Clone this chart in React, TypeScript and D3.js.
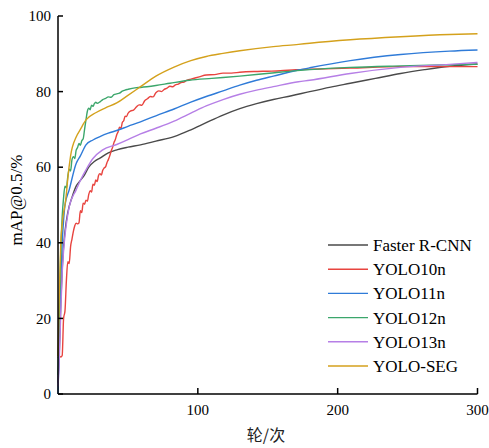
import React from "react";
import * as d3 from "d3";

// epochs / mAP@0.5 values
const fasterEpochs = [0, 1, 2, 3, 4, 5, 7, 10, 13, 16, 19, 22, 26, 30, 36, 42, 50, 59, 70, 83, 95, 106, 118, 130, 142, 154, 167, 180, 195, 209, 227, 245, 262, 280, 300];
const fasterMap = [3, 12, 24, 33, 39, 43, 48, 52, 55, 56.5, 58, 60, 61.5, 62.4, 63.8, 64.6, 65.3, 65.9, 66.9, 68.1, 69.9, 71.8, 73.8, 75.5, 76.8, 77.9, 78.9, 80, 81.2, 82.2, 83.5, 84.8, 85.8, 86.7, 87.3];

const y10Epochs = [0, 1, 2, 3, 4, 5, 6, 7, 8, 9, 10, 11, 12, 13, 14, 15, 16, 17, 18, 19, 20, 21, 22, 23, 24, 25, 26, 27, 28, 29, 30, 31, 32, 33, 34, 35, 36, 37, 38, 39, 40, 41, 42, 43, 44, 45, 46, 47, 48, 49, 50, 52, 54, 56, 58, 60, 62, 64, 66, 68, 70, 72, 74, 76, 78, 80, 82, 84, 86, 88, 90, 92, 95, 98, 101, 106, 112, 118, 124, 130, 140, 150, 159, 170, 180, 209, 245, 275, 300];
const y10Map = [9.5, 10, 9.8, 10.2, 20, 22, 30, 35, 34.5, 39, 41, 43, 44.5, 45.2, 45, 45.3, 48.5, 48, 50.5, 50.2, 51.3, 51, 52.8, 53.8, 53.4, 55.5, 55.2, 56.6, 56.2, 57.8, 58.3, 57.9, 59.2, 59.8, 60.1, 61.2, 62, 63, 64.3, 65.2, 66.5, 67.3, 68.6, 69.4, 70.6, 70.3, 71.8, 72.3, 73.5, 73.4, 74.2, 74.9, 75.1, 75.9, 76.5, 76.4, 77.6, 78.1, 78.7, 78.6, 79.7, 80.2, 80, 80.6, 80.9, 81.4, 81.3, 81.8, 82, 82.4, 82.5, 83, 83.3, 83.6, 83.9, 84.4, 84.5, 84.9, 84.9, 85.1, 85.3, 85.4, 85.5, 85.8, 85.9, 86.2, 86.6, 86.6, 86.6];

const y11Epochs = [0, 1, 2, 3, 4, 5, 8, 13, 16, 20, 25, 30, 36, 42, 50, 59, 70, 83, 95, 106, 118, 130, 142, 154, 172, 180, 209, 245, 280, 300];
const y11Map = [0, 15, 30, 40, 46, 50, 54, 61, 63, 65.9, 67.2, 68.1, 69, 69.7, 70.8, 72, 73.6, 75.4, 77.2, 78.7, 80.2, 81.7, 83, 84.1, 85.7, 86.3, 88.2, 89.8, 90.7, 91];

const y12Epochs = [0, 1, 2, 3, 4, 5, 6, 7, 8, 9, 10, 11, 12, 13, 14, 15, 16, 17, 18, 19, 20, 21, 22, 23, 24, 25, 26, 27, 28, 30, 32, 34, 36, 38, 40, 42, 44, 46, 48, 50, 55, 59, 70, 80, 94, 110, 130, 155, 180, 209, 245, 280, 300];
const y12Map = [5, 22, 38, 47, 52, 55, 54.5, 57.5, 59.5, 59, 62, 62.8, 62.3, 64.5, 65.2, 66.3, 65.8, 67, 67.5, 70, 72.5, 74.8, 75.6, 75.2, 76.4, 76.1, 76.8, 77.2, 76.9, 77.3, 77.9, 78.2, 78.6, 78.5, 79.2, 79.4, 79.6, 80.1, 80.4, 80.6, 81, 81.1, 81.6, 82.2, 83, 83.5, 84.1, 85, 85.8, 86.4, 86.8, 87.1, 87.2];

const y13Epochs = [0, 1, 2, 3, 4, 5, 6, 8, 13, 16, 20, 25, 32, 42, 50, 59, 70, 83, 95, 106, 118, 130, 142, 154, 172, 180, 209, 245, 280, 300];
const y13Map = [2, 10, 22, 32, 38, 42, 45, 49.5, 54, 56.5, 59.3, 62.3, 64.6, 66, 67.3, 68.8, 70.3, 72.2, 74.3, 76.2, 77.9, 79.3, 80.4, 81.3, 82.6, 83, 84.8, 86.4, 87.2, 87.7];

const segEpochs = [0, 1, 2, 3, 4, 5, 6, 7, 9, 13, 16, 20, 27, 34, 42, 50, 59, 70, 83, 95, 106, 118, 130, 154, 172, 180, 209, 245, 280, 300];
const segMap = [10, 28, 40, 45, 48, 50, 53, 57, 63, 68, 70, 72.5, 74.4, 75.7, 77, 79, 81.3, 84.1, 86.5, 88.2, 89.3, 90.1, 90.8, 91.9, 92.5, 92.8, 93.7, 94.5, 95.1, 95.3];

const seriesNames = ["Faster R-CNN", "YOLO10n", "YOLO11n", "YOLO12n", "YOLO13n", "YOLO-SEG"];
const seriesColors = ["#4a4a4a", "#e8443f", "#2f7bd8", "#3ba66b", "#b67fe6", "#d4a11c"];
const seriesEpochs = [fasterEpochs, y10Epochs, y11Epochs, y12Epochs, y13Epochs, segEpochs];
const seriesValues = [fasterMap, y10Map, y11Map, y12Map, y13Map, segMap];

const xTicks = [100, 200, 300];
const yTicks = [0, 20, 40, 60, 80, 100];

const serif = "'Liberation Serif', 'Times New Roman', serif";

export default function App() {
  const width = 489;
  const height = 448;
  const left = 58;
  const right = 477.5;
  const top = 16;
  const bottom = 394;

  const x = d3.scaleLinear().domain([0, 300]).range([left, right]);
  const y = d3.scaleLinear().domain([0, 100]).range([bottom, top]);

  const line = d3
    .line<[number, number]>()
    .x((d) => x(d[0]))
    .y((d) => y(d[1]))
    .curve(d3.curveMonotoneX);

  const legendX = 328;
  const legendY = 245;
  const legendStep = 24.2;

  return (
    <svg
      width={width}
      height={height}
      style={{ position: "absolute", left: 0, top: 0, background: "#fff" }}
    >
      {/* series */}
      <g fill="none" strokeWidth={1.4}>
        {seriesNames.map((name, i) => {
          const pts = seriesEpochs[i].map((e, j) => [e, seriesValues[i][j]] as [number, number]);
          return <path key={name} d={line(pts) || ""} stroke={seriesColors[i]} />;
        })}
      </g>

      {/* axes */}
      <g stroke="#000" strokeWidth={1.5} fill="none">
        <line x1={left} x2={left} y1={top} y2={bottom} />
        <line x1={left} x2={right} y1={bottom} y2={bottom} />
        {yTicks.map((t) => (
          <line key={t} x1={left} x2={left + 5} y1={y(t)} y2={y(t)} />
        ))}
        {xTicks.map((t) => (
          <line key={t} x1={x(t)} x2={x(t)} y1={bottom} y2={bottom - 6} />
        ))}
      </g>
      <g fontFamily={serif} fontSize={15} fill="#000">
        {yTicks.map((t) => (
          <text key={t} x={left - 7} y={y(t)} dy="0.35em" textAnchor="end">
            {t}
          </text>
        ))}
        {xTicks.map((t) => (
          <text key={t} x={x(t)} y={bottom + 21} textAnchor="middle">
            {t}
          </text>
        ))}
      </g>

      <text
        transform="translate(22,200) rotate(-90)"
        textAnchor="middle"
        fontFamily={serif}
        fontSize={17}
      >
        mAP@0.5/%
      </text>
      <text
        x={266}
        y={441}
        textAnchor="middle"
        fontFamily="'Noto Sans CJK SC', sans-serif"
        fontSize={16}
        fill="#222"
      >
        轮/次
      </text>

      {/* legend */}
      <g fontFamily={serif} fontSize={17}>
        {seriesNames.map((name, i) => (
          <g key={name} transform={`translate(${legendX},${legendY + i * legendStep})`}>
            <line x1={0} x2={40} y1={0} y2={0} stroke={seriesColors[i]} strokeWidth={1.4} />
            <text x={45} y={0} dy="0.35em">
              {name}
            </text>
          </g>
        ))}
      </g>
    </svg>
  );
}
